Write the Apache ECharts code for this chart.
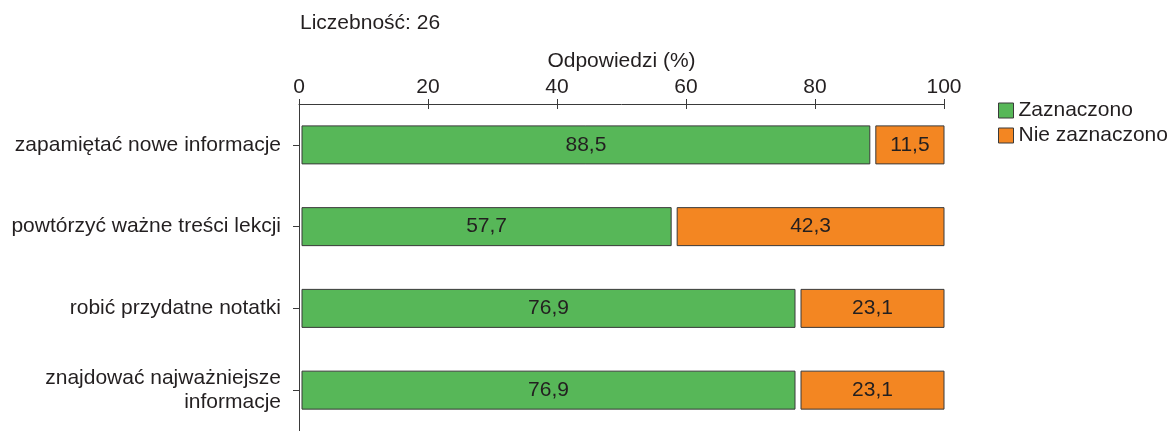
<!DOCTYPE html>
<html>
<head>
<meta charset="utf-8">
<script src="https://cdn.jsdelivr.net/npm/echarts@6/dist/echarts.min.js"></script>
<style>
  html, body { margin: 0; padding: 0; background: #fff; }
  #chart { width: 1170px; height: 431px; }
</style>
</head>
<body>
<div id="chart"></div>
<script>
'use strict';

const categories = [
    'zapamiętać nowe informacje',
    'powtórzyć ważne treści lekcji',
    'robić przydatne notatki',
    'znajdować najważniejsze\ninformacje'
];
const zaznaczono = [88.5, 57.7, 76.9, 76.9];
const nieZaznaczono = [11.5, 42.3, 23.1, 23.1];
const xTicks = [0, 20, 40, 60, 80, 100];

const font = '"Liberation Sans", Arial, sans-serif';
const textColor = '#231f20';
const fontSize = 21;
const fmt = (v) => v.toFixed(1).replace('.', ',');

/*
 * Each bar is drawn as a separate box with a small gap, as in the original.
 */
const makeRender = (fill, insetLeft) => (params, api) => {
    const cat = api.value(0);
    const p0 = api.coord([api.value(1), cat]);
    const p1 = api.coord([api.value(2), cat]);
    const h = 38;
    const x = p0[0] + insetLeft;
    return {
        type: 'rect',
        shape: { x: x, y: p0[1] - h / 2, width: p1[0] - x, height: h },
        style: { fill: fill, stroke: '#3a3a3a', lineWidth: 1 },
        textContent: {
            style: {
                text: fmt(api.value(2) - api.value(1)),
                fontFamily: font,
                fontSize: fontSize,
                fill: textColor
            }
        },
        textConfig: { position: 'inside' }
    };
};

const greenData = categories.map((c, i) => [i, 0, zaznaczono[i]]);
const orangeData = categories.map((c, i) => [i, zaznaczono[i], zaznaczono[i] + nieZaznaczono[i]]);

const chart = echarts.init(document.getElementById('chart'));
chart.setOption({
    animation: false,
    textStyle: { fontFamily: font, color: textColor },
    title: {
        text: 'Liczebność: 26',
        left: 295,
        top: 8,
        textStyle: { fontFamily: font, fontSize: fontSize, fontWeight: 'normal', color: textColor }
    },
    legend: {
        orient: 'vertical',
        left: 993,
        top: 95,
        itemWidth: 15,
        itemHeight: 15,
        itemGap: 4,
        icon: 'rect',
        itemStyle: { borderColor: '#3a3a3a', borderWidth: 1 },
        textStyle: { fontFamily: font, fontSize: fontSize, lineHeight: 21, color: textColor, padding: [0, 0, 0, 0] },
        data: ['Zaznaczono', 'Nie zaznaczono']
    },
    grid: { left: 299, right: 226, top: 104, bottom: -5 },
    xAxis: [{
        type: 'value',
        position: 'top',
        min: xTicks[0],
        max: xTicks[xTicks.length - 1],
        interval: 20,
        name: 'Odpowiedzi (%)',
        nameLocation: 'middle',
        nameGap: 31,
        nameTextStyle: { fontFamily: font, fontSize: fontSize, color: textColor },
        axisLine: { show: true, lineStyle: { color: '#3a3a3a', width: 1 } },
        axisTick: { show: true, length: 5, lineStyle: { color: '#3a3a3a' } },
        axisLabel: { fontFamily: font, fontSize: fontSize, color: textColor, margin: 6 },
        splitLine: { show: false }
    }, {
        type: 'value',
        position: 'top',
        min: xTicks[0],
        max: xTicks[xTicks.length - 1],
        interval: 20,
        axisLine: { show: false },
        axisTick: { show: true, inside: true, length: 5, lineStyle: { color: '#3a3a3a' } },
        axisLabel: { show: false },
        splitLine: { show: false }
    }],
    yAxis: {
        type: 'category',
        inverse: true,
        data: categories,
        axisLine: { show: true, lineStyle: { color: '#3a3a3a', width: 1 } },
        axisTick: { show: true, alignWithLabel: true, length: 6, lineStyle: { color: '#3a3a3a' } },
        axisLabel: { fontFamily: font, fontSize: fontSize, color: textColor, margin: 18, lineHeight: 24, align: 'right' }
    },
    series: [{
        name: 'Zaznaczono',
        type: 'custom',
        itemStyle: { color: '#57b758' },
        encode: { x: [1, 2], y: 0 },
        renderItem: makeRender('#57b758', 3),
        data: greenData
    }, {
        name: 'Nie zaznaczono',
        type: 'custom',
        itemStyle: { color: '#f38622' },
        encode: { x: [1, 2], y: 0 },
        renderItem: makeRender('#f38622', 6),
        data: orangeData
    }]
});
</script>
</body>
</html>
